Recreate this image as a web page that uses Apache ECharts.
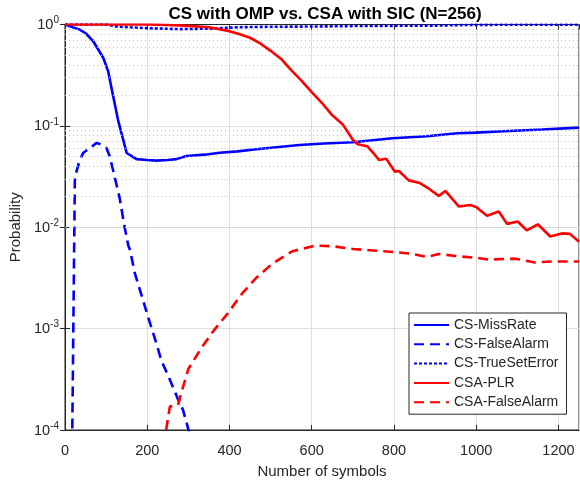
<!DOCTYPE html>
<html>
<head>
<meta charset="utf-8">
<script src="https://cdn.jsdelivr.net/npm/echarts@6/dist/echarts.min.js"></script>
<style>html,body{margin:0;padding:0;background:#fff}#c{width:580px;height:487px}</style>
</head>
<body>
<div id="c"></div>
<script>
// ---- data ----
const xMiss = [0, 12, 36, 50, 69, 93, 105, 113, 129, 150, 174, 200, 222, 250, 271, 295, 340, 376, 420, 465, 520, 570, 630, 700, 796, 880, 954, 998, 1080, 1160, 1250];
const yMiss = [1, 0.96, 0.89, 0.82, 0.68, 0.47, 0.345, 0.237, 0.114, 0.054, 0.047, 0.046, 0.0454, 0.046, 0.047, 0.0505, 0.052, 0.0544, 0.056, 0.0588, 0.062, 0.0648, 0.067, 0.069, 0.0754, 0.079, 0.0845, 0.0857, 0.089, 0.092, 0.096];

const xFA = [17, 24, 35, 44, 57, 77, 90, 101, 109, 121, 133, 145, 154, 158, 170, 190, 202, 222, 234, 254, 275, 287, 299, 320];
const yFA = [0.00005, 0.031, 0.045, 0.054, 0.059, 0.068, 0.065, 0.06, 0.05, 0.031, 0.0193, 0.0100, 0.0066, 0.006, 0.0035, 0.0019, 0.0013, 0.00072, 0.00049, 0.00032, 0.0002, 0.000158, 0.000105, 0.00005];

const xTSE = [0, 100, 130, 200, 280, 350, 420, 500, 600, 700, 800, 900, 980, 1100, 1250];
const yTSE = [1, 1, 0.95, 0.92, 0.9, 0.91, 0.94, 0.95, 0.955, 0.965, 0.97, 0.975, 0.99, 0.995, 0.995];

const xPLR = [0, 100, 200, 250, 300, 350, 400, 425, 450, 475, 500, 525, 550, 575, 600, 625, 650, 675, 700, 712, 735, 750, 764, 781, 802, 812, 836, 861, 885, 909, 925, 958, 986, 1000, 1026, 1055, 1075, 1101, 1123, 1150, 1180, 1208, 1228, 1250];
const yPLR = [1, 1, 1, 0.99, 0.97, 0.94, 0.86, 0.80, 0.74, 0.65, 0.55, 0.46, 0.355, 0.28, 0.215, 0.168, 0.127, 0.104, 0.073, 0.066, 0.063, 0.054, 0.046, 0.0475, 0.0354, 0.0359, 0.029, 0.0275, 0.024, 0.0204, 0.0228, 0.016, 0.0166, 0.0158, 0.013, 0.0143, 0.0108, 0.0114, 0.0093, 0.0107, 0.0081, 0.0087, 0.0086, 0.0072];

const xCFA = [240, 255, 275, 285, 300, 330, 362, 395, 430, 466, 505, 553, 610, 650, 700, 750, 800, 840, 881, 909, 950, 1000, 1030, 1095, 1143, 1184, 1250];
const yCFA = [0.00007, 0.00017, 0.000177, 0.00025, 0.0004, 0.00063, 0.00096, 0.0014, 0.0022, 0.0032, 0.0044, 0.0058, 0.0066, 0.0065, 0.0061, 0.0059, 0.0057, 0.0055, 0.0051, 0.00545, 0.0052, 0.0050, 0.0048, 0.0049, 0.0045, 0.0046, 0.0046];

const seriesNames = ['CS-MissRate', 'CS-FalseAlarm', 'CS-TrueSetError', 'CSA-PLR', 'CSA-FalseAlarm'];
const xTicks = [0, 200, 400, 600, 800, 1000, 1200];
const yDecades = [1e-4, 1e-3, 1e-2, 1e-1, 1];

// minor log grid positions (2..9 per decade)
const minorVals = [];
for (let d = -4; d < 0; d++) for (let k = 2; k <= 9; k++) minorVals.push(k * Math.pow(10, d));

function zip(xs, ys) { return xs.map((x, i) => [x, ys[i]]); }

const txt = '#262626';
const FF = 'Liberation Sans, Arial, sans-serif';
const chart = echarts.init(document.getElementById('c'), null, {renderer: 'canvas'});

const mkLine = (name, xs, ys, color, type, z) => ({
  name, type: 'line', data: zip(xs, ys), symbol: 'none', showSymbol: false, clip: true, z,
  lineStyle: {color, width: 2.6, type, cap: 'butt'}, itemStyle: {color},
  emphasis: {disabled: true}
});

chart.setOption({
  animation: false,
  backgroundColor: '#fff',
  title: {
    text: 'CS with OMP vs. CSA with SIC (N=256)',
    left: 320, top: 1, textAlign: 'center',
    textStyle: {fontFamily: FF, fontWeight: 'bold', fontSize: 17, color: '#000'}
  },
  grid: {left: 65, right: 1, top: 24.5, bottom: 57, show: true, borderColor: txt, borderWidth: 1, backgroundColor: 'transparent'},
  legend: {
    orient: 'vertical', left: 409, top: 313,
    padding: [5, 8, 5, 4], itemGap: 5.3, itemWidth: 35, itemHeight: 14,
    backgroundColor: '#fff', borderColor: txt, borderWidth: 1,
    itemStyle: {color: 'transparent', borderWidth: 0, opacity: 0},
    textStyle: {fontFamily: FF, fontSize: 14, color: txt},
    data: seriesNames, selectedMode: false
  },
  xAxis: [{
    type: 'value', min: 0, max: 1250, interval: 200,
    name: 'Number of symbols', nameLocation: 'middle', nameGap: 34,
    nameTextStyle: {fontFamily: FF, fontSize: 15, color: txt},
    axisLine: {show: true, lineStyle: {color: txt, width: 1}},
    axisTick: {show: true, inside: true, length: 5, lineStyle: {color: txt}},
    axisLabel: {show: true, margin: 13, showMaxLabel: false, fontFamily: FF, fontSize: 14.5, color: txt,
      formatter: v => String(v)},
    splitLine: {show: true, lineStyle: {color: '#dedede', width: 1}}
  }, {
    type: 'value', min: 0, max: 1250, interval: 200, position: 'top',
    axisLine: {show: true, lineStyle: {color: txt, width: 1}},
    axisTick: {show: true, inside: true, length: 5, lineStyle: {color: txt}},
    axisLabel: {show: false}, splitLine: {show: false}
  }],
  yAxis: [{
    type: 'log', logBase: 10, min: 1e-4, max: 1,
    name: 'Probability', nameLocation: 'middle', nameGap: 42,
    nameTextStyle: {fontFamily: FF, fontSize: 15, color: txt},
    axisLine: {show: true, lineStyle: {color: txt, width: 1}},
    axisTick: {show: true, inside: true, length: 5, lineStyle: {color: txt}},
    axisLabel: {
      margin: 6,
      formatter: v => '{b|10}{s|' + Math.round(Math.log10(v)) + '}',
      rich: {
        b: {fontFamily: FF, fontSize: 14.5, color: txt, verticalAlign: 'bottom', lineHeight: 16},
        s: {fontFamily: FF, fontSize: 10, color: txt, verticalAlign: 'bottom', lineHeight: 16, padding: [0, 0, 7, 0]}
      }
    },
    splitLine: {show: true, lineStyle: {color: '#dedede', width: 1}}
  }, {
    type: 'log', logBase: 10, min: 1e-4, max: 1, position: 'right',
    axisLine: {show: true, lineStyle: {color: txt, width: 1}},
    axisTick: {show: true, inside: true, length: 5, lineStyle: {color: txt}},
    axisLabel: {show: false}, splitLine: {show: false}
  }],
  series: [
    {
      name: 'minorGrid', type: 'line', data: [], z: 1, silent: true,
      markLine: {
        silent: true, symbol: ['none', 'none'], label: {show: false},
        lineStyle: {color: '#c4c4c4', width: 1, type: [1, 3]},
        emphasis: {disabled: true},
        data: minorVals.map(v => ({yAxis: v}))
      }
    },
    mkLine(seriesNames[0], xMiss, yMiss, '#0000ff', 'solid', 3),
    mkLine(seriesNames[1], xFA, yFA, '#0000ff', [10, 6], 4),
    mkLine(seriesNames[2], xTSE, yTSE, '#0000ff', [3, 2], 5),
    mkLine(seriesNames[3], xPLR, yPLR, '#ff0000', 'solid', 6),
    mkLine(seriesNames[4], xCFA, yCFA, '#ff0000', [10, 6], 7)
  ]
});
</script>
</body>
</html>
